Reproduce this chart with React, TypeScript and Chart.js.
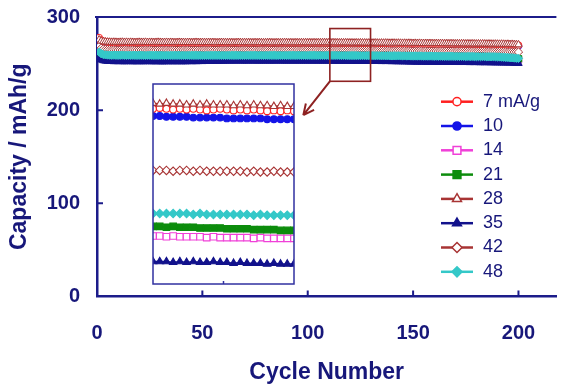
import React, { useEffect, useRef } from 'react';
import { Chart, registerables } from 'chart.js';
import { drawPoint } from 'chart.js/helpers';

Chart.register(...registerables);

// ---------------- data ----------------
const SERIES_LABELS = ['7 mA/g', '10', '14', '21', '28', '35', '42', '48'];
const FIRST_CYCLE = 1;
const X_TICK_STEP = 50;
const Y_TICK_STEP = 100;
const X_RANGE = [0, 218];
const Y_RANGE = [0, 300];
const INSET_CYCLES = [110, 131];
const INSET_CAPACITY = [250, 275];
const INSET_MID_TICK = 120.5;
const ZOOM_BOX = [110.5, 129.8, 231, 287.6]; // x0, x1, y0, y1 (data units)
const ARROW_TIP = [97.9, 194.6];

const CAP_7 = [
  277.8, 275.2, 274.0, 273.4, 273.0, 272.8, 272.7, 272.6, 272.7, 272.5, 272.6, 272.5, 272.6, 272.4, 272.5, 272.6, 272.4, 272.5, 272.4, 272.5,
  272.4, 272.5, 272.3, 272.4, 272.5, 272.4, 272.3, 272.4, 272.3, 272.4, 272.5, 272.3, 272.4, 272.3, 272.4, 272.3, 272.2, 272.3, 272.4, 272.3,
  272.3, 272.2, 272.3, 272.4, 272.3, 272.2, 272.3, 272.2, 272.3, 272.2, 272.3, 272.2, 272.1, 272.2, 272.3, 272.2, 272.1, 272.2, 272.3, 272.2,
  272.2, 272.1, 272.2, 272.1, 272.2, 272.3, 272.2, 272.1, 272.2, 272.1, 272.2, 272.1, 272.0, 272.1, 272.2, 272.1, 272.0, 272.1, 272.2, 272.1,
  272.1, 272.0, 272.1, 272.2, 272.1, 272.0, 272.1, 272.0, 272.1, 272.0, 272.1, 272.0, 271.9, 272.0, 272.1, 272.0, 271.9, 272.0, 272.1, 272.0,
  272.0, 271.9, 272.0, 271.9, 272.0, 271.9, 272.0, 271.9, 271.8, 271.9, 272.0, 271.9, 271.8, 271.9, 271.8, 271.9, 271.8, 271.7, 271.8, 271.9,
  271.8, 271.7, 271.8, 271.7, 271.8, 271.7, 271.6, 271.7, 271.6, 271.7, 271.6, 271.5, 271.6, 271.5, 271.6, 271.5, 271.4, 271.5, 271.4, 271.5,
  271.4, 271.3, 271.4, 271.3, 271.4, 271.3, 271.2, 271.3, 271.2, 271.3, 271.2, 271.1, 271.2, 271.1, 271.2, 271.1, 271.0, 271.1, 271.0, 271.1,
  271.0, 270.9, 271.0, 270.9, 271.0, 270.9, 270.8, 270.9, 270.8, 270.9, 270.8, 270.7, 270.8, 270.7, 270.8, 270.7, 270.6, 270.7, 270.6, 270.7,
  270.6, 270.5, 270.6, 270.5, 270.6, 270.5, 270.4, 270.5, 270.4, 270.5, 270.4, 270.3, 270.4, 270.3, 270.2, 270.3, 270.2, 270.1, 270.0, 269.8,
];
const CAP_10 = [
  274.2, 272.9, 272.3, 272.0, 271.8, 271.7, 271.6, 271.7, 271.6, 271.5, 271.6, 271.5, 271.6, 271.5, 271.4, 271.5, 271.6, 271.5, 271.4, 271.5,
  271.5, 271.4, 271.5, 271.4, 271.5, 271.4, 271.3, 271.4, 271.5, 271.4, 271.4, 271.3, 271.4, 271.5, 271.4, 271.3, 271.4, 271.3, 271.4, 271.3,
  271.4, 271.3, 271.4, 271.3, 271.2, 271.3, 271.4, 271.3, 271.2, 271.3, 271.3, 271.2, 271.3, 271.4, 271.3, 271.2, 271.3, 271.2, 271.3, 271.2,
  271.3, 271.2, 271.2, 271.3, 271.2, 271.1, 271.2, 271.3, 271.2, 271.1, 271.2, 271.2, 271.1, 271.2, 271.1, 271.2, 271.1, 271.2, 271.1, 271.1,
  271.2, 271.1, 271.2, 271.1, 271.0, 271.1, 271.2, 271.1, 271.1, 271.0, 271.1, 271.2, 271.1, 271.0, 271.1, 271.1, 271.0, 271.1, 271.0, 271.1,
  271.1, 271.0, 271.1, 271.0, 271.1, 271.0, 271.1, 271.0, 271.0, 271.0, 271.0, 270.9, 270.9, 270.9, 270.9, 270.8, 270.8, 270.8, 270.8, 270.8,
  270.7, 270.7, 270.7, 270.7, 270.7, 270.7, 270.6, 270.6, 270.6, 270.6, 270.6, 270.5, 270.6, 270.5, 270.4, 270.5, 270.4, 270.5, 270.4, 270.3,
  270.4, 270.3, 270.4, 270.3, 270.2, 270.3, 270.2, 270.3, 270.2, 270.1, 270.2, 270.1, 270.2, 270.1, 270.0, 270.1, 270.0, 270.1, 270.0, 269.9,
  270.0, 269.9, 270.0, 269.9, 269.8, 269.9, 269.8, 269.9, 269.8, 269.7, 269.8, 269.7, 269.8, 269.7, 269.6, 269.7, 269.6, 269.7, 269.6, 269.5,
  269.6, 269.5, 269.6, 269.5, 269.4, 269.5, 269.4, 269.5, 269.4, 269.3, 269.4, 269.3, 269.4, 269.3, 269.2, 269.3, 269.2, 269.1, 269.2, 269.0,
];
const CAP_14 = [
  259.2, 257.6, 257.0, 256.7, 256.6, 256.5, 256.4, 256.5, 256.4, 256.3, 256.4, 256.5, 256.4, 256.3, 256.4, 256.3, 256.4, 256.3, 256.2, 256.3,
  256.4, 256.3, 256.2, 256.3, 256.2, 256.3, 256.4, 256.3, 256.2, 256.3, 256.2, 256.1, 256.2, 256.3, 256.2, 256.1, 256.2, 256.3, 256.2, 256.1,
  256.2, 256.1, 256.2, 256.1, 256.2, 256.3, 256.2, 256.1, 256.2, 256.1, 256.0, 256.1, 256.2, 256.1, 256.0, 256.1, 256.2, 256.1, 256.0, 256.1,
  256.1, 256.0, 256.1, 256.2, 256.1, 256.0, 256.1, 256.0, 256.1, 256.0, 256.1, 256.0, 255.9, 256.0, 256.1, 256.0, 256.1, 256.0, 255.9, 256.0,
  256.1, 256.0, 255.9, 256.0, 256.1, 256.0, 255.9, 256.0, 256.1, 256.0, 256.0, 255.9, 256.0, 256.1, 256.0, 255.9, 256.0, 256.0, 256.1, 256.0,
  256.0, 255.9, 256.0, 256.1, 256.0, 256.0, 255.9, 256.0, 256.0, 256.0, 256.0, 255.9, 256.0, 255.9, 255.9, 255.9, 255.9, 255.8, 255.9, 255.8,
  255.8, 255.8, 255.8, 255.8, 255.7, 255.8, 255.7, 255.7, 255.7, 255.7, 255.7, 255.6, 255.7, 255.6, 255.5, 255.6, 255.5, 255.6, 255.5, 255.4,
  255.5, 255.4, 255.5, 255.4, 255.3, 255.4, 255.3, 255.4, 255.3, 255.2, 255.3, 255.2, 255.3, 255.2, 255.1, 255.2, 255.1, 255.2, 255.1, 255.0,
  255.1, 255.0, 255.1, 255.0, 254.9, 255.0, 254.9, 255.0, 254.9, 254.8, 254.9, 254.8, 254.9, 254.8, 254.7, 254.8, 254.7, 254.8, 254.7, 254.6,
  254.7, 254.6, 254.7, 254.6, 254.5, 254.6, 254.5, 254.6, 254.5, 254.4, 254.5, 254.4, 254.5, 254.4, 254.3, 254.4, 254.3, 254.2, 254.3, 254.1,
];
const CAP_21 = [
  259.8, 258.6, 258.0, 257.8, 257.7, 257.6, 257.7, 257.6, 257.5, 257.6, 257.5, 257.6, 257.5, 257.4, 257.5, 257.6, 257.5, 257.4, 257.5, 257.4,
  257.5, 257.4, 257.5, 257.6, 257.5, 257.4, 257.5, 257.4, 257.3, 257.4, 257.5, 257.4, 257.3, 257.4, 257.5, 257.4, 257.3, 257.4, 257.3, 257.4,
  257.4, 257.3, 257.4, 257.3, 257.4, 257.3, 257.2, 257.3, 257.4, 257.3, 257.3, 257.2, 257.3, 257.4, 257.3, 257.2, 257.3, 257.2, 257.3, 257.2,
  257.3, 257.2, 257.3, 257.2, 257.3, 257.2, 257.3, 257.2, 257.1, 257.2, 257.3, 257.2, 257.2, 257.1, 257.2, 257.3, 257.2, 257.1, 257.2, 257.2,
  257.2, 257.1, 257.2, 257.3, 257.2, 257.1, 257.2, 257.2, 257.1, 257.2, 257.3, 257.2, 257.1, 257.2, 257.2, 257.1, 257.2, 257.3, 257.2, 257.2,
  257.2, 257.3, 257.2, 257.2, 257.3, 257.2, 257.2, 257.3, 257.2, 257.2, 257.2, 257.1, 257.2, 257.1, 257.1, 257.1, 257.0, 257.0, 257.0, 257.0,
  256.9, 256.9, 256.9, 256.9, 256.8, 256.8, 256.8, 256.8, 256.7, 256.7, 256.7, 256.6, 256.7, 256.6, 256.5, 256.6, 256.5, 256.6, 256.5, 256.4,
  256.5, 256.4, 256.5, 256.4, 256.3, 256.4, 256.3, 256.4, 256.3, 256.2, 256.3, 256.2, 256.3, 256.2, 256.1, 256.2, 256.1, 256.2, 256.1, 256.0,
  256.1, 256.0, 256.1, 256.0, 255.9, 256.0, 255.9, 256.0, 255.9, 255.8, 255.9, 255.8, 255.9, 255.8, 255.7, 255.8, 255.7, 255.8, 255.7, 255.6,
  255.7, 255.6, 255.7, 255.6, 255.5, 255.6, 255.5, 255.6, 255.5, 255.4, 255.5, 255.4, 255.5, 255.4, 255.3, 255.4, 255.3, 255.2, 255.3, 255.1,
];
const CAP_28 = [
  275.6, 274.3, 273.7, 273.4, 273.2, 273.1, 273.0, 273.1, 273.0, 272.9, 273.0, 273.1, 272.9, 273.0, 272.9, 273.0, 272.9, 272.8, 272.9, 273.0,
  272.9, 272.9, 273.0, 272.8, 272.9, 272.9, 272.8, 272.9, 273.0, 272.9, 272.8, 272.8, 272.9, 272.8, 272.9, 272.8, 272.7, 272.8, 272.9, 272.8,
  272.8, 272.7, 272.8, 272.8, 272.7, 272.8, 272.9, 272.8, 272.7, 272.8, 272.7, 272.7, 272.8, 272.7, 272.8, 272.7, 272.6, 272.7, 272.8, 272.7,
  272.7, 272.6, 272.7, 272.7, 272.6, 272.7, 272.8, 272.7, 272.6, 272.7, 272.6, 272.7, 272.6, 272.6, 272.7, 272.6, 272.7, 272.6, 272.5, 272.6,
  272.6, 272.7, 272.6, 272.5, 272.6, 272.6, 272.5, 272.6, 272.7, 272.6, 272.5, 272.6, 272.5, 272.6, 272.6, 272.5, 272.6, 272.5, 272.6, 272.5,
  272.6, 272.5, 272.6, 272.5, 272.6, 272.5, 272.6, 272.6, 272.5, 272.6, 272.5, 272.6, 272.5, 272.5, 272.4, 272.5, 272.4, 272.5, 272.4, 272.4,
  272.4, 272.3, 272.4, 272.3, 272.4, 272.3, 272.3, 272.2, 272.3, 272.2, 272.2, 272.3, 272.2, 272.1, 272.2, 272.1, 272.2, 272.1, 272.0, 272.1,
  272.1, 272.0, 272.1, 272.0, 271.9, 272.0, 271.9, 272.0, 271.9, 271.8, 271.9, 271.8, 271.9, 271.8, 271.7, 271.8, 271.7, 271.8, 271.7, 271.6,
  271.7, 271.6, 271.7, 271.6, 271.5, 271.6, 271.5, 271.6, 271.5, 271.4, 271.5, 271.4, 271.5, 271.4, 271.3, 271.4, 271.3, 271.4, 271.3, 271.2,
  271.3, 271.2, 271.3, 271.2, 271.1, 271.2, 271.1, 271.0, 271.1, 271.0, 270.9, 271.0, 270.9, 270.8, 270.9, 270.7, 270.8, 270.6, 270.5, 270.3,
];
const CAP_35 = [
  256.2, 254.0, 253.2, 252.8, 252.6, 252.5, 252.4, 252.2, 252.3, 252.2, 252.3, 252.2, 252.1, 252.2, 252.3, 252.2, 252.1, 252.2, 252.1, 252.2,
  252.2, 252.1, 252.2, 252.3, 252.2, 252.1, 252.2, 252.1, 252.2, 252.1, 252.0, 252.1, 252.2, 252.1, 252.2, 252.1, 252.2, 252.1, 252.2, 252.1,
  252.2, 252.1, 252.2, 252.3, 252.2, 252.3, 252.2, 252.3, 252.4, 252.3, 252.4, 252.5, 252.4, 252.5, 252.6, 252.7, 252.6, 252.7, 252.8, 252.7,
  252.8, 252.9, 252.8, 252.9, 252.8, 252.9, 253.0, 252.9, 252.8, 252.9, 252.8, 252.9, 253.0, 252.9, 252.8, 252.9, 252.8, 252.9, 252.8, 252.9,
  252.9, 252.8, 252.9, 252.8, 252.9, 253.0, 252.9, 252.8, 252.9, 252.8, 252.9, 252.8, 252.9, 252.8, 252.9, 252.8, 252.9, 252.8, 252.9, 252.8,
  252.9, 252.8, 252.9, 252.8, 252.8, 252.9, 252.8, 252.8, 252.9, 252.8, 252.8, 252.8, 252.7, 252.8, 252.7, 252.8, 252.7, 252.7, 252.8, 252.7,
  252.7, 252.6, 252.7, 252.6, 252.6, 252.6, 252.5, 252.6, 252.5, 252.5, 252.5, 252.4, 252.5, 252.4, 252.3, 252.4, 252.3, 252.4, 252.3, 252.2,
  252.3, 252.2, 252.1, 252.2, 252.1, 252.0, 252.1, 251.9, 251.8, 251.9, 251.8, 251.7, 251.8, 251.7, 251.8, 251.7, 251.6, 251.7, 251.6, 251.7,
  251.6, 251.5, 251.6, 251.5, 251.6, 251.5, 251.4, 251.5, 251.4, 251.5, 251.4, 251.3, 251.4, 251.3, 251.4, 251.3, 251.2, 251.3, 251.2, 251.3,
  251.2, 251.1, 251.2, 251.1, 251.2, 251.1, 251.0, 251.1, 251.0, 250.9, 251.0, 250.9, 250.8, 250.9, 250.8, 250.7, 250.8, 250.6, 250.5, 250.3,
];
const CAP_42 = [
  268.6, 266.5, 265.6, 265.1, 264.9, 264.8, 264.7, 264.8, 264.7, 264.6, 264.7, 264.6, 264.7, 264.6, 264.5, 264.6, 264.7, 264.6, 264.5, 264.6,
  264.6, 264.5, 264.6, 264.5, 264.6, 264.5, 264.4, 264.5, 264.6, 264.5, 264.5, 264.4, 264.5, 264.4, 264.5, 264.6, 264.5, 264.4, 264.5, 264.4,
  264.5, 264.4, 264.5, 264.4, 264.3, 264.4, 264.5, 264.4, 264.3, 264.4, 264.4, 264.3, 264.4, 264.5, 264.4, 264.3, 264.4, 264.3, 264.4, 264.3,
  264.4, 264.3, 264.4, 264.3, 264.4, 264.3, 264.2, 264.3, 264.4, 264.3, 264.3, 264.2, 264.3, 264.4, 264.3, 264.2, 264.3, 264.3, 264.2, 264.3,
  264.3, 264.2, 264.3, 264.4, 264.3, 264.2, 264.3, 264.2, 264.3, 264.2, 264.3, 264.2, 264.3, 264.2, 264.3, 264.2, 264.2, 264.3, 264.2, 264.3,
  264.2, 264.3, 264.2, 264.3, 264.2, 264.2, 264.3, 264.2, 264.2, 264.2, 264.2, 264.2, 264.1, 264.2, 264.2, 264.1, 264.2, 264.1, 264.1, 264.1,
  264.1, 264.1, 264.1, 264.0, 264.1, 264.0, 264.0, 264.1, 264.0, 264.0, 264.0, 263.9, 264.0, 263.9, 263.8, 263.9, 263.8, 263.9, 263.8, 263.7,
  263.8, 263.7, 263.8, 263.7, 263.6, 263.7, 263.6, 263.7, 263.6, 263.5, 263.6, 263.5, 263.6, 263.5, 263.4, 263.5, 263.4, 263.5, 263.4, 263.3,
  263.4, 263.3, 263.4, 263.3, 263.2, 263.3, 263.2, 263.3, 263.2, 263.1, 263.2, 263.1, 263.2, 263.1, 263.0, 263.1, 263.0, 263.1, 263.0, 262.9,
  263.0, 262.9, 263.0, 262.9, 262.8, 262.9, 262.8, 262.9, 262.8, 262.7, 262.8, 262.7, 262.8, 262.7, 262.6, 262.7, 262.6, 262.5, 262.6, 262.4,
];
const CAP_48 = [
  262.4, 260.6, 259.8, 259.4, 259.2, 259.1, 259.0, 259.1, 259.0, 258.9, 259.0, 259.1, 259.0, 258.9, 259.0, 258.9, 259.0, 258.9, 258.8, 258.9,
  259.0, 258.9, 258.8, 258.9, 259.0, 258.9, 258.8, 258.9, 258.8, 258.9, 258.9, 258.8, 258.9, 258.8, 258.9, 258.8, 258.9, 258.8, 258.9, 258.8,
  258.9, 258.8, 258.9, 258.8, 258.9, 258.8, 258.9, 258.8, 258.9, 258.8, 258.8, 258.9, 258.8, 258.9, 258.8, 258.9, 258.8, 258.9, 258.8, 258.9,
  258.8, 258.9, 258.8, 258.9, 258.8, 258.9, 258.8, 258.9, 258.8, 258.8, 258.9, 258.8, 258.9, 258.8, 258.9, 258.8, 258.8, 258.9, 258.8, 258.9,
  258.8, 258.9, 258.8, 258.9, 258.8, 258.8, 258.9, 258.8, 258.9, 258.8, 258.9, 258.8, 258.9, 258.8, 258.8, 258.9, 258.8, 258.9, 258.8, 258.8,
  258.9, 258.8, 258.9, 258.8, 258.8, 258.9, 258.8, 258.8, 258.9, 258.8, 258.8, 258.8, 258.8, 258.8, 258.8, 258.7, 258.8, 258.7, 258.7, 258.7,
  258.7, 258.7, 258.7, 258.7, 258.6, 258.7, 258.6, 258.6, 258.6, 258.6, 258.6, 258.5, 258.6, 258.5, 258.4, 258.5, 258.4, 258.5, 258.4, 258.3,
  258.4, 258.3, 258.4, 258.3, 258.2, 258.3, 258.2, 258.3, 258.2, 258.1, 258.2, 258.1, 258.2, 258.1, 258.0, 258.1, 258.0, 258.1, 258.0, 257.9,
  258.0, 257.9, 258.0, 257.9, 257.8, 257.9, 257.8, 257.9, 257.8, 257.7, 257.8, 257.7, 257.8, 257.7, 257.6, 257.7, 257.6, 257.7, 257.6, 257.5,
  257.6, 257.5, 257.6, 257.5, 257.4, 257.5, 257.4, 257.5, 257.4, 257.2, 257.1, 256.9, 256.8, 256.6, 256.5, 256.3, 256.2, 256.0, 255.8, 255.6,
];
const SERIES = [CAP_7, CAP_10, CAP_14, CAP_21, CAP_28, CAP_35, CAP_42, CAP_48];

// ---------------- styles ----------------
const FONT = '"Liberation Sans", Arial, Helvetica, sans-serif';
const TEXT = '#17177a';
const AXIS = '#1c1c8a';
const BOX = '#8e2222';
const INSET_FRAME = '#3030a0';

const STYLES = [
  { color: '#ff2020', fill: '#ffffff', point: 'circle', r: 3.4, order: 5 },
  { color: '#1414e8', fill: '#1414e8', point: 'circle', r: 3.4, order: 6 },
  { color: '#f040d8', fill: '#ffffff', point: 'rect', r: 4.6, order: 8 },
  { color: '#0c8c0c', fill: '#0c8c0c', point: 'rect', r: 4.6, order: 7 },
  { color: '#a83434', fill: '#ffffff', point: 'triangle', r: 4.3, order: 1 },
  { color: '#12128c', fill: '#12128c', point: 'triangle', r: 4.3, order: 4 },
  { color: '#a83434', fill: '#ffffff', point: 'rectRot', r: 4.2, order: 3 },
  { color: '#34c8c8', fill: '#34c8c8', point: 'rectRot', r: 4.2, order: 2 },
];

const LEGEND = { lineX0: 441, lineX1: 473, textX: 483, top: 101.7, step: 24.3 };

function makeDatasets(range: number[] | null, inset: boolean) {
  return SERIES.map((vals, i) => {
    const st = STYLES[i];
    let pts = vals.map((v, j) => ({ x: FIRST_CYCLE + j, y: v }));
    if (range) pts = pts.filter((p) => p.x >= range[0] && p.x <= range[1]);
    return {
      label: SERIES_LABELS[i],
      data: pts,
      borderColor: st.color,
      backgroundColor: st.fill,
      pointBackgroundColor: st.fill,
      pointBorderColor: st.color,
      pointStyle: st.point,
      pointRadius: st.r,
      pointBorderWidth: inset ? 1.1 : 1,
      borderWidth: inset ? 1.5 : 1,
      order: st.order,
      showLine: true,
      tension: 0,
    };
  });
}

const mainDecor = {
  id: 'mainDecor',
  afterDatasetsDraw(chart: any) {
    const { ctx, chartArea } = chart;
    const xs = chart.scales.x;
    const ys = chart.scales.y;
    ctx.save();
    // zoom box + arrow
    const L = xs.getPixelForValue(ZOOM_BOX[0]);
    const R = xs.getPixelForValue(ZOOM_BOX[1]);
    const B = ys.getPixelForValue(ZOOM_BOX[2]);
    const T = ys.getPixelForValue(ZOOM_BOX[3]);
    ctx.strokeStyle = BOX;
    ctx.lineWidth = 1.6;
    ctx.strokeRect(L, T, R - L, B - T);
    const tx = xs.getPixelForValue(ARROW_TIP[0]);
    const ty = ys.getPixelForValue(ARROW_TIP[1]);
    ctx.beginPath();
    ctx.moveTo(L, B);
    ctx.lineTo(tx, ty);
    const ang = Math.atan2(ty - B, tx - L);
    const hl = 12;
    ctx.moveTo(tx, ty);
    ctx.lineTo(tx - hl * Math.cos(ang - 0.45), ty - hl * Math.sin(ang - 0.45));
    ctx.moveTo(tx, ty);
    ctx.lineTo(tx - hl * Math.cos(ang + 0.45), ty - hl * Math.sin(ang + 0.45));
    ctx.lineWidth = 2;
    ctx.stroke();

    // top frame and inward ticks
    ctx.strokeStyle = AXIS;
    ctx.lineWidth = 2;
    ctx.beginPath();
    ctx.moveTo(chartArea.left - 2, chartArea.top);
    ctx.lineTo(chartArea.right, chartArea.top);
    xs.ticks.forEach((t: any) => {
      if (t.value === 0) return;
      const px = xs.getPixelForValue(t.value);
      ctx.moveTo(px, chartArea.bottom);
      ctx.lineTo(px, chartArea.bottom - 6);
    });
    ys.ticks.forEach((t: any) => {
      if (t.value === 0) return;
      const py = ys.getPixelForValue(t.value);
      ctx.moveTo(chartArea.left, py);
      ctx.lineTo(chartArea.left + 6, py);
    });
    ctx.stroke();
    ctx.restore();
  },
  afterDraw(chart: any) {
    const ctx = chart.ctx;
    ctx.save();
    chart.data.datasets.forEach((ds: any, i: number) => {
      const y = LEGEND.top + i * LEGEND.step;
      ctx.strokeStyle = ds.borderColor;
      ctx.lineWidth = 2.5;
      ctx.beginPath();
      ctx.moveTo(LEGEND.lineX0, y);
      ctx.lineTo(LEGEND.lineX1, y);
      ctx.stroke();
      ctx.fillStyle = ds.pointBackgroundColor;
      ctx.strokeStyle = ds.borderColor;
      ctx.lineWidth = 1.5;
      drawPoint(ctx, { pointStyle: ds.pointStyle, radius: ds.pointRadius * 1.2, borderWidth: 1.5, rotation: 0 } as any, (LEGEND.lineX0 + LEGEND.lineX1) / 2, y);
      ctx.fillStyle = TEXT;
      ctx.font = `18px ${FONT}`;
      ctx.textBaseline = 'middle';
      ctx.textAlign = 'left';
      ctx.fillText(ds.label, LEGEND.textX, y);
    });
    ctx.restore();
  },
};

const insetDecor = {
  id: 'insetDecor',
  afterDraw(chart: any) {
    const { ctx, chartArea } = chart;
    const xs = chart.scales.x;
    ctx.save();
    ctx.strokeStyle = INSET_FRAME;
    ctx.lineWidth = 1.5;
    ctx.strokeRect(chartArea.left, chartArea.top, chartArea.right - chartArea.left, chartArea.bottom - chartArea.top);
    const mx = xs.getPixelForValue(INSET_MID_TICK);
    ctx.beginPath();
    ctx.moveTo(mx, chartArea.bottom);
    ctx.lineTo(mx, chartArea.bottom - 3);
    ctx.stroke();
    ctx.restore();
  },
};

export default function App() {
  const mainRef = useRef<HTMLCanvasElement>(null);
  const insetRef = useRef<HTMLCanvasElement>(null);

  useEffect(() => {
    const tickFont = { family: FONT, size: 20, weight: 'bold' as const };
    const titleFont = { family: FONT, size: 23, weight: 'bold' as const };
    const main = new Chart(mainRef.current as HTMLCanvasElement, {
      type: 'line',
      data: { datasets: makeDatasets(null, false) as any },
      options: {
        animation: false,
        responsive: false,
        layout: { padding: { left: 0, top: 17, right: 1, bottom: 0 } },
        plugins: { legend: { display: false }, tooltip: { enabled: false } },
        elements: { line: { tension: 0 } },
        scales: {
          x: {
            type: 'linear',
            min: X_RANGE[0],
            max: X_RANGE[1],
            ticks: { stepSize: X_TICK_STEP, includeBounds: false, font: tickFont, color: TEXT, padding: 25, maxRotation: 0, autoSkip: false },
            grid: { display: false, drawTicks: false },
            border: { display: true, color: AXIS, width: 2.5 },
            title: { display: true, text: 'Cycle Number', font: titleFont, color: TEXT, padding: { top: 0, bottom: 3 } },
            afterFit: (s: any) => { s.height = 92.5; s.paddingLeft = 0; s.paddingRight = 0; },
          },
          y: {
            type: 'linear',
            min: Y_RANGE[0],
            max: Y_RANGE[1],
            ticks: { stepSize: Y_TICK_STEP, font: tickFont, color: TEXT, padding: 17 },
            grid: { display: false, drawTicks: false },
            border: { display: true, color: AXIS, width: 2.5 },
            title: { display: true, text: 'Capacity / mAh/g', font: titleFont, color: TEXT, padding: { top: 6, bottom: 0 } },
            afterFit: (s: any) => { s.width = 97; s.paddingTop = 0; s.paddingBottom = 0; },
          },
        },
      },
      plugins: [mainDecor],
    } as any);

    const inset = new Chart(insetRef.current as HTMLCanvasElement, {
      type: 'line',
      data: { datasets: makeDatasets(INSET_CYCLES, true) as any },
      options: {
        animation: false,
        responsive: false,
        layout: { padding: 6 },
        plugins: { legend: { display: false }, tooltip: { enabled: false } },
        scales: {
          x: { type: 'linear', display: false, min: INSET_CYCLES[0], max: INSET_CYCLES[1] },
          y: { type: 'linear', display: false, min: INSET_CAPACITY[0], max: INSET_CAPACITY[1] },
        },
      },
      plugins: [insetDecor],
    } as any);

    return () => {
      main.destroy();
      inset.destroy();
    };
  }, []);

  return (
    <div style={{ position: 'absolute', left: 0, top: 0, width: 562, height: 389, background: '#ffffff', overflow: 'hidden' }}>
      <canvas ref={mainRef} width={562} height={389} style={{ position: 'absolute', left: 0, top: 0 }} />
      <canvas ref={insetRef} width={153} height={212} style={{ position: 'absolute', left: 147, top: 78 }} />
    </div>
  );
}
